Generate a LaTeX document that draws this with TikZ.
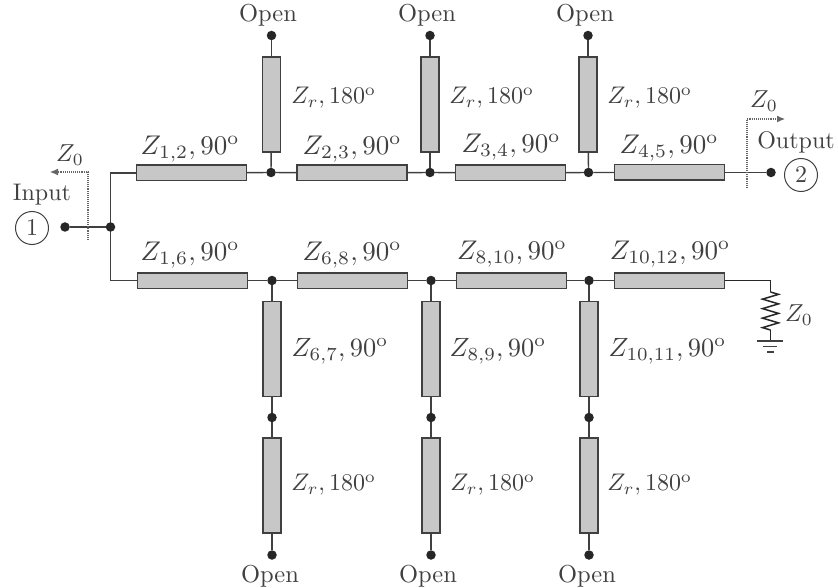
\documentclass[tikz,border=0pt]{standalone}
\usetikzlibrary{decorations.pathmorphing,arrows.meta,backgrounds}
\definecolor{ink}{gray}{0.25}
\definecolor{stub}{gray}{0.78}
\tikzset{
 hbox/.style={draw=ink,fill=stub,line width=1.5pt,minimum width=110pt,minimum height=15.5pt,inner sep=0pt,outer sep=0pt},
 vlong/.style={draw=ink,fill=stub,line width=1.5pt,minimum width=18pt,minimum height=95pt,inner sep=0pt,outer sep=0pt},
 dotn/.style={circle,fill=black!85,minimum size=9.5pt,inner sep=0pt,outer sep=0pt},
 wire/.style={draw=ink,line width=1.4pt},
 loadwire/.style={draw=black!85,line width=1.5pt},
 dots/.style={draw=black!60,line width=1.1pt,densely dotted},
 lab/.style={text=ink,inner sep=0pt,scale=2.7},
 labr/.style={text=ink,inner sep=0pt,scale=2.4,anchor=west},
 labs/.style={text=ink,inner sep=0pt,scale=2.64,anchor=west},
 zero/.style={text=ink,inner sep=0pt,scale=2.45},
 small/.style={text=ink,inner sep=0pt,scale=2.45},
 big/.style={text=ink,inner sep=0pt,scale=2.4},
 port/.style={draw=ink,circle,line width=1pt,minimum size=33pt,inner sep=0pt},
 digit/.style={text=ink,inner sep=0pt,scale=2.4},
}
\begin{document}
\begin{tikzpicture}[x=1pt,y=-1pt]
\useasboundingbox (0,0) rectangle (838,588);
% top row
\node[hbox] (b12) at (191.5,173) {};
\node[hbox] (b23) at (352,173) {};
\node[hbox] (b34) at (510.5,173) {};
\node[hbox] (b45) at (669.5,172.5) {};
\node[dotn] (j2) at (271,172.5) {};
\node[dotn] (j3) at (430,172.5) {};
\node[dotn] (j4) at (588.5,172.5) {};
\node[vlong] (s2) at (271.5,104.5) {};
\node[vlong] (s3) at (430,104.5) {};
\node[vlong] (s4) at (588,104.5) {};
\node[dotn] (o2) at (271.5,35.5) {};
\node[dotn] (o3) at (430,35.5) {};
\node[dotn] (o4) at (588,35.5) {};
% bottom row
\node[hbox] (b16) at (192.5,280.5) {};
\node[hbox] (b68) at (352.5,280.5) {};
\node[hbox] (b810) at (511.5,280.5) {};
\node[hbox] (b1012) at (669.5,280.5) {};
\node[dotn] (j6) at (272,280.5) {};
\node[dotn] (j8) at (431,280.5) {};
\node[dotn] (j10) at (589,280.5) {};
\node[vlong] (d6) at (272,349) {};
\node[vlong] (d8) at (431,349) {};
\node[vlong] (d10) at (589,349) {};
\node[dotn] (m6) at (272,417.5) {};
\node[dotn] (m8) at (431,417.5) {};
\node[dotn] (m10) at (589,417.5) {};
\node[vlong] (e6) at (272,485.5) {};
\node[vlong] (e8) at (431,485.5) {};
\node[vlong] (e10) at (589,485.5) {};
\node[dotn] (q6) at (272,555) {};
\node[dotn] (q8) at (431,555) {};
\node[dotn] (q10) at (589,555) {};
% ports
\node[dotn] (in) at (65,227) {};
\node[dotn] (j1) at (110.5,227) {};
\node[dotn] (out) at (771,172.5) {};
\node[port] (p1) at (32,228) {};
\node[digit] at (p1) {1};
\node[port] (p2) at (801,175) {};
\node[digit] at (p2) {2};
\coordinate (c1) at (110.5,173);
\coordinate (c6) at (110.5,280.5);
% wires
\begin{scope}[on background layer]
\draw[wire] (in) -- (j1);
\draw[wire] (b12.center) -- (c1) -- (c6) -- (b16.center);
\draw[wire] (b12) -- (j2) -- (b23);
\draw[wire] (b23) -- (j3) -- (b34);
\draw[wire] (b34) -- (j4) -- (b45);
\draw[wire] (b45) -- (out);
\draw[wire] (b16) -- (j6) -- (b68);
\draw[wire] (b68) -- (j8) -- (b810);
\draw[wire] (b810) -- (j10) -- (b1012);
\draw[wire] (o2) -- (s2);
\draw[wire] (s2) -- (j2);
\draw[wire] (o3) -- (s3);
\draw[wire] (s3) -- (j3);
\draw[wire] (o4) -- (s4);
\draw[wire] (s4) -- (j4);
\foreach \a/\b/\c/\d/\e in {j6/d6/m6/e6/q6,j8/d8/m8/e8/q8,j10/d10/m10/e10/q10}{
 \draw[wire] (\a) -- (\b);
 \draw[wire] (\b) -- (\c);
 \draw[wire] (\c) -- (\d);
 \draw[wire] (\d) -- (\e);
}
\end{scope}
% load
\coordinate (l1) at (770.5,280.5);
\coordinate (l2) at (770.5,292);
\coordinate (l3) at (770.5,330);
\coordinate (g0) at (770.5,341);
\coordinate (g1a) at (757,341); \coordinate (g1b) at (783,341);
\coordinate (g2a) at (763,346.5); \coordinate (g2b) at (777,346.5);
\coordinate (g3a) at (767,352); \coordinate (g3b) at (774,352);
\draw[loadwire] (b1012.east) -- (l1) -- (l2);
\draw[loadwire,decorate,decoration={zigzag,segment length=9.5pt,amplitude=8pt}] (l2) -- (l3);
\draw[loadwire] (l3) -- (g0);
\draw[wire] (g1a) -- (g1b);
\draw[wire] (g2a) -- (g2b);
\draw[wire] (g3a) -- (g3b);
% reference planes
\coordinate (r1a) at (88,240); \coordinate (r1b) at (88,172); \coordinate (r1c) at (50,172);
\coordinate (r2a) at (747,188); \coordinate (r2b) at (747,119); \coordinate (r2c) at (785,119);
\draw[dots,-{Latex[length=8pt,width=7pt]}] (r1a) -- (r1b) -- (r1c);
\draw[dots,-{Latex[length=8pt,width=7pt]}] (r2a) -- (r2b) -- (r2c);
% labels
\node[zero] (z1) at (70,155) {$Z_0$};
\node[big] (tin) at (42,195) {Input};
\node[zero] (z2) at (764,101) {$Z_0$};
\node[big] (tout) at (796,142) {Output};
\node[zero] (z3) at (799,315) {$Z_0$};
\node[lab] (l12) at (190,149) {$Z_{1,2},90^{\mathrm{o}}$};
\node[lab] (l23) at (352,149) {$Z_{2,3},90^{\mathrm{o}}$};
\node[lab] (l34) at (511,147) {$Z_{3,4},90^{\mathrm{o}}$};
\node[lab] (l45) at (669,148) {$Z_{4,5},90^{\mathrm{o}}$};
\node[lab] (l16) at (190,255) {$Z_{1,6},90^{\mathrm{o}}$};
\node[lab] (l68) at (352,255) {$Z_{6,8},90^{\mathrm{o}}$};
\node[lab] (l810) at (512,254) {$Z_{8,10},90^{\mathrm{o}}$};
\node[lab] (l1012) at (670,254) {$Z_{10,12},90^{\mathrm{o}}$};
\foreach \nm/\x/\y in {r2/291/98,r3/449/98,r4/607/98,r6/291/485,r8/450/485,r10/607/485}{
 \node[labr] (\nm) at (\x,\y) {$Z_r,180^{\mathrm{o}}$};
}
\node[labs] (l67) at (291,351) {$Z_{6,7},90^{\mathrm{o}}$};
\node[labs] (l89) at (449,351) {$Z_{8,9},90^{\mathrm{o}}$};
\node[labs] (l1011) at (608,351) {$Z_{10,11},90^{\mathrm{o}}$};
\foreach \nm/\x/\y in {t2/268/15,t3/427/15,t4/585/15,t6/270/576,t8/428/576,t10/587/576}{
 \node[small] (\nm) at (\x,\y) {Open};
}
\end{tikzpicture}
\end{document}
